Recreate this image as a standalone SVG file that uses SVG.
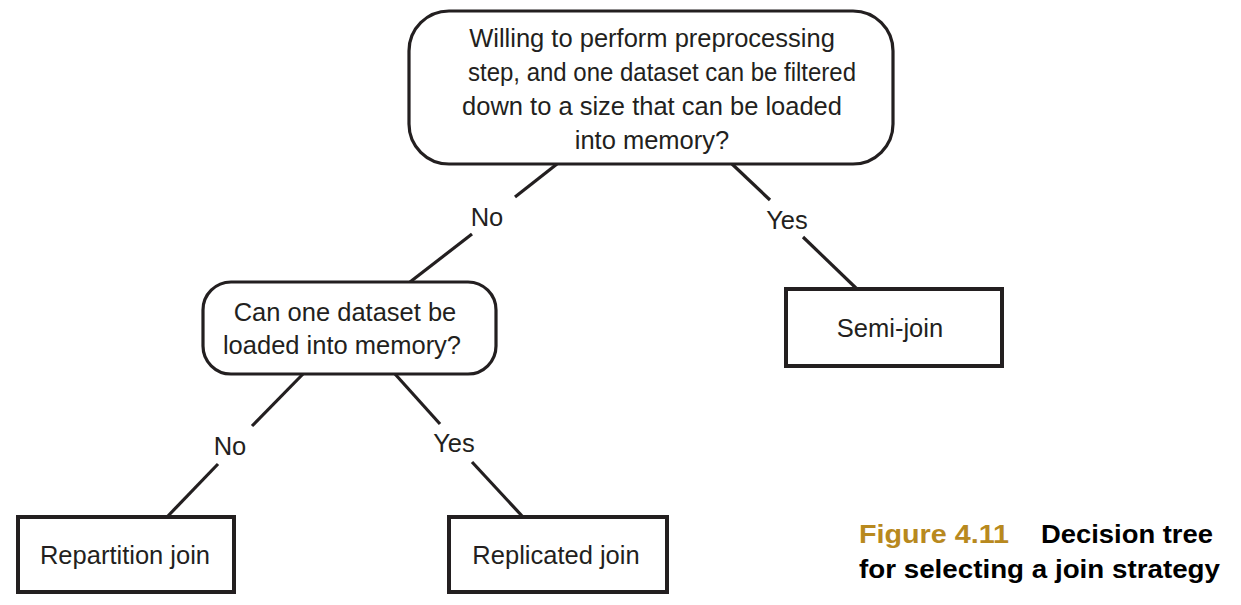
<svg xmlns="http://www.w3.org/2000/svg" width="1241" height="605" viewBox="0 0 1241 605">
<style>
  .q { fill: #ffffff; stroke: #231f20; stroke-width: 3.2; }
  .leaf { fill: #ffffff; stroke: #231f20; stroke-width: 4; }
  .t { font-family: "Liberation Sans", Arial, sans-serif; font-size: 25.5px; fill: #231f20; text-anchor: middle; }
  .c { stroke: #231f20; stroke-width: 3.2; fill: none; }
  .cap { font-family: "Liberation Sans", Arial, sans-serif; font-size: 26px; font-weight: bold; }
</style>
<rect width="1241" height="605" fill="#ffffff"/>
<g id="connectors">
  <line class="c" x1="557" y1="164" x2="515" y2="197"/>
  <line class="c" x1="472" y1="234" x2="410" y2="282"/>
  <line class="c" x1="732" y1="164" x2="770" y2="200"/>
  <line class="c" x1="803" y1="237" x2="857" y2="289"/>
  <line class="c" x1="303" y1="374" x2="252" y2="426"/>
  <line class="c" x1="218" y1="464" x2="167" y2="517"/>
  <line class="c" x1="395" y1="374" x2="440" y2="424"/>
  <line class="c" x1="472" y1="462" x2="523" y2="517"/>
  <text class="t" x="487" y="226">No</text>
  <text class="t" x="787" y="229">Yes</text>
  <text class="t" x="230" y="455">No</text>
  <text class="t" x="454" y="452">Yes</text>
</g>
<g id="node-root">
  <rect class="q" x="409" y="11" width="484" height="153" rx="40" ry="40"/>
  <text class="t" x="652" y="47">Willing to perform preprocessing</text>
  <text class="t" x="662" y="81" textLength="388" lengthAdjust="spacingAndGlyphs">step, and one dataset can be filtered</text>
  <text class="t" x="652" y="115">down to a size that can be loaded</text>
  <text class="t" x="652" y="149">into memory?</text>
</g>
<g id="node-memory">
  <rect class="q" x="203" y="282" width="293" height="92" rx="28" ry="28"/>
  <text class="t" x="345" y="321">Can one dataset be</text>
  <text class="t" x="342" y="354">loaded into memory?</text>
</g>
<g id="node-semi">
  <rect class="leaf" x="786" y="289" width="216" height="77"/>
  <text class="t" x="890" y="337">Semi-join</text>
</g>
<g id="node-repartition">
  <rect class="leaf" x="18" y="517" width="216" height="75"/>
  <text class="t" x="125" y="564">Repartition join</text>
</g>
<g id="node-replicated">
  <rect class="leaf" x="449" y="517" width="218" height="75"/>
  <text class="t" x="556" y="564">Replicated join</text>
</g>
<g id="caption">
  <text class="cap" x="859" y="543" fill="#b8891e" textLength="150" lengthAdjust="spacingAndGlyphs">Figure 4.11</text>
  <text class="cap" x="1041" y="543" fill="#000000" textLength="172" lengthAdjust="spacingAndGlyphs">Decision tree</text>
  <text class="cap" x="859" y="578" fill="#000000" textLength="361" lengthAdjust="spacingAndGlyphs">for selecting a join strategy</text>
</g>
</svg>
